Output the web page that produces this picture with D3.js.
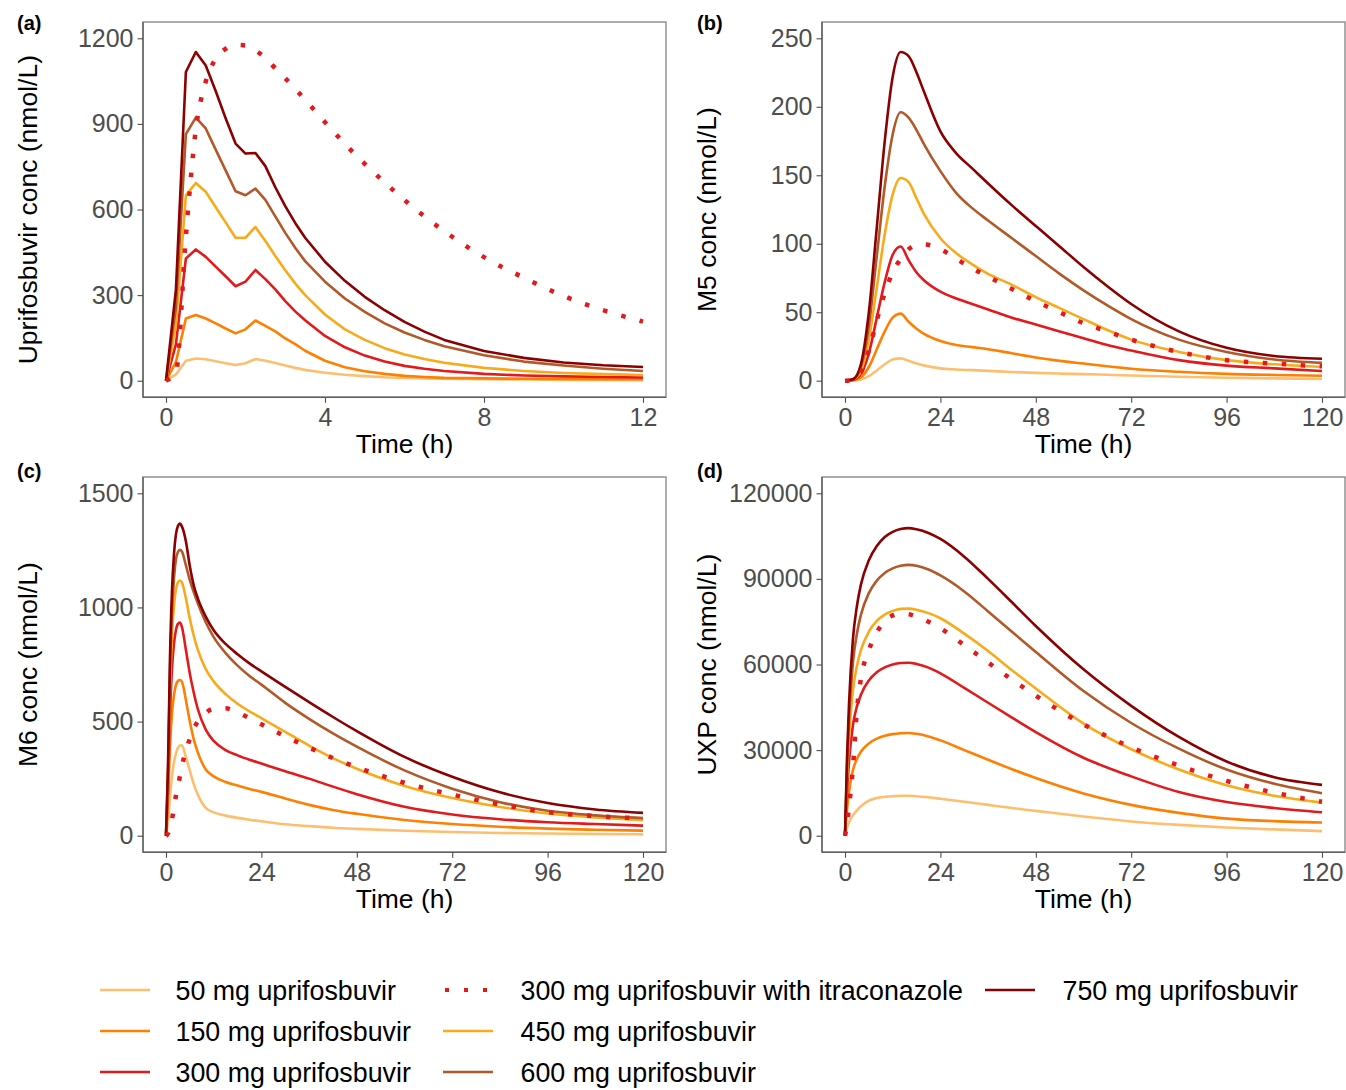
<!DOCTYPE html>
<html>
<head>
<meta charset="utf-8">
<script src="https://cdn.jsdelivr.net/npm/d3@7"></script>
<style>
  body { margin: 0; background: #fff; }
  svg { display: block; }
  text { font-family: "Liberation Sans", Arial, Helvetica, sans-serif; }
</style>
</head>
<body>
<svg id="chart" width="1346" height="1090"></svg>
<script>
// ---- Simulated concentration-time profiles ----
// Series keys: 50, 150, 300, 300 + itraconazole, 450, 600, 750 mg

// (a) uprifosbuvir, 0-12 h
const timeA = [0,0.25,0.5,0.75,1,1.25,1.5,1.75,2,2.25,2.5,2.75,3,3.25,3.5,4,4.5,5,5.5,6,6.5,7,8,9,10,11,12];
const upr50   = [0,22,70,78,75,68,61,55,61,76,70,62,53,45,38,28,21,16,12,10,8,7,5,4,3,2.5,2];
const upr150  = [0,65,218,230,218,201,183,166,180,211,192,173,148,128,105,70,47,33,24,17,13,10,8,7,6,5,5];
const upr300  = [0,128,428,460,434,400,366,331,347,388,356,320,279,243,212,157,117,88,67,52,42,34,24,18,15,13,11];
const upr300i = [0,30,505,880,1048,1128,1163,1177,1175,1158,1130,1095,1060,1023,985,906,830,760,695,633,576,524,433,361,297,247,207];
const upr450  = [0,195,650,693,662,608,555,501,501,539,490,437,387,341,300,232,180,143,114,92,76,63,45,34,27,23,20];
const upr600  = [0,260,864,922,884,810,737,664,650,673,634,576,518,466,419,347,288,241,201,169,143,121,89,67,53,42,34];
const upr750  = [0,320,1082,1152,1105,1015,920,831,796,798,752,678,612,553,501,417,350,294,247,206,172,143,104,80,64,54,48];

// (b) M5, 0-120 h
const timeB = [0,2,4,6,8,10,12,14,16,18,20,24,28,32,36,42,48,54,60,66,72,84,96,108,120];
const m5_50   = [0,0.1,0.8,3.3,7.5,12,15.5,16.3,14.5,12.5,11,9,8.2,7.7,7.2,6.4,5.7,5.2,4.8,4.3,3.8,2.9,2.2,1.7,1.2];
const m5_150  = [0,0.3,2.5,10,23,36,46,49,43,38,34,29,26,24.5,23,20,17,14.5,12.5,10.5,8.7,6.5,5,4.2,3.6];
const m5_300  = [0,0.5,5,20,46,72,92,98,88,79,73,65,60,56,52,46,41,36,31,26,22,15,11,9,7];
const m5_300i = [0,0.5,6,22,44,64,79,89,96,99,99.5,96,89,82,76,67,58,50,42,36,30,21,15,12.5,10.5];
const m5_450  = [0,1,7,30,68,107,136,148,145,133,121,104,93,85,78,70,61,53,45,37,30,21,15,12,10];
const m5_600  = [0,1,10,40,91,142,180,196,192,183,172,153,137,126,117,104,91,78,66,55,45,30,21,15.5,13];
const m5_750  = [0,1,12,50,112,175,222,240,237,225,210,182,166,155,144,128,113,98,83,69,56,36,24,18,16];

// (c) M6, 0-120 h
const timeC = [0,0.5,1,1.5,2,2.5,3,3.5,4,5,6,7,8,10,12,15,18,21,24,30,36,42,48,60,72,84,96,108,120];
const m6_50   = [0,60,170,260,320,360,385,395,396,345,285,225,180,122,102,88,78,70,63,50,42,35,30,22,16,12,9.5,7.5,6];
const m6_150  = [0,150,390,535,615,660,678,682,675,595,500,421,365,290,260,235,220,205,192,163,135,113,96,69,51,39,31,26,22];
const m6_300  = [0,205,535,730,840,900,928,934,915,815,710,625,555,465,415,375,352,333,316,282,250,215,182,127,93,72,59,51,44];
const m6_300i = [0,10,40,72,120,175,220,260,305,370,425,470,500,538,556,558,540,515,488,435,386,340,300,232,180,137,103,86,76];
const m6_450  = [0,245,640,875,1005,1080,1110,1118,1110,1040,950,875,815,730,676,620,578,545,515,455,395,340,293,218,165,126,97,80,68];
const m6_600  = [0,275,715,980,1125,1210,1243,1252,1245,1185,1120,1066,1018,935,870,800,745,700,662,582,512,448,390,286,206,147,109,89,77];
const m6_750  = [0,300,780,1070,1230,1320,1357,1367,1355,1290,1180,1095,1040,960,900,840,795,755,720,652,585,520,458,345,258,190,143,115,100];

// (d) UXP, 0-120 h
const timeD = [0,0.5,1,2,3,4,6,8,10,12,14,16,18,21,24,30,36,42,48,60,72,84,96,108,120];
const uxp50   = [0,2700,4600,7200,8900,10300,12300,13200,13600,13850,14000,14000,13850,13450,12950,11900,10800,9700,8700,6700,5000,3800,2900,2200,1600];
const uxp150  = [0,9000,15300,23000,26900,29400,32300,34000,35000,35600,35900,36000,35700,34800,33400,30000,26600,23300,20200,14800,10800,8000,6000,5100,4600];
const uxp300  = [0,15200,25800,38800,45300,49400,54400,57300,59000,60000,60500,60600,60200,58900,56900,51800,46600,41400,36300,27300,20800,15300,11800,9700,8200];
const uxp300i = [0,4000,10000,24000,44000,55000,65000,71200,75300,77200,77800,77600,76800,75000,72700,66800,60700,54700,49100,39000,31000,24600,19200,15100,11900];
const uxp450  = [0,20000,34000,51000,59500,65000,71500,75300,77500,78800,79500,79600,79200,78000,76200,70800,64700,58000,51600,39300,30300,23200,17700,14000,11600];
const uxp600  = [0,23800,40500,60700,70800,77400,85000,89400,92100,93700,94600,94900,94600,93300,91200,85600,78600,71500,64400,50700,39500,30500,23200,18200,14900];
const uxp750  = [0,27000,46000,69000,80500,88000,96500,101500,104700,106500,107500,107800,107400,106100,104000,97800,90000,81800,73500,58300,45500,34600,26000,20500,17800];

// Tick labels
const ticksA_x = [0,4,8,12],          ticksA_y = [0,300,600,900,1200];
const ticksB_x = [0,24,48,72,96,120], ticksB_y = [0,50,100,150,200,250];
const ticksC_x = [0,24,48,72,96,120], ticksC_y = [0,500,1000,1500];
const ticksD_x = [0,24,48,72,96,120], ticksD_y = [0,30000,60000,90000,120000];

const seriesNames = ["50 mg uprifosbuvir", "150 mg uprifosbuvir", "300 mg uprifosbuvir",
  "300 mg uprifosbuvir with itraconazole", "450 mg uprifosbuvir", "600 mg uprifosbuvir", "750 mg uprifosbuvir"];

// ---- Styling ----
const seriesStyle = {
  "50 mg uprifosbuvir":  { color: "#FDBF6F", dashed: false },
  "150 mg uprifosbuvir": { color: "#FF7F00", dashed: false },
  "300 mg uprifosbuvir": { color: "#E31A1C", dashed: false },
  "300 mg uprifosbuvir with itraconazole": { color: "#E31A1C", dashed: true },
  "450 mg uprifosbuvir": { color: "#F9AA1B", dashed: false },
  "600 mg uprifosbuvir": { color: "#B15928", dashed: false },
  "750 mg uprifosbuvir": { color: "#8B0000", dashed: false }
};
const SOLID_W = 2.6, DOT_W = 4.5, DOT_DASH = "4.5 14.5";

const panels = [
  { tag: "(a)", left: 143, top: 22, tagX: 17, tagY: 30, xMax: 12, times: timeA,
    xt: ticksA_x, yt: ticksA_y, yTitle: "Uprifosbuvir conc (nmol/L)", curve: d3.curveLinear,
    values: [upr50, upr150, upr300, upr300i, upr450, upr600, upr750] },
  { tag: "(b)", left: 822, top: 22, tagX: 697, tagY: 30, xMax: 120, times: timeB,
    xt: ticksB_x, yt: ticksB_y, yTitle: "M5 conc (nmol/L)", curve: d3.curveMonotoneX,
    values: [m5_50, m5_150, m5_300, m5_300i, m5_450, m5_600, m5_750] },
  { tag: "(c)", left: 143, top: 477, tagX: 17, tagY: 477.5, xMax: 120, times: timeC,
    xt: ticksC_x, yt: ticksC_y, yTitle: "M6 conc (nmol/L)", curve: d3.curveMonotoneX,
    values: [m6_50, m6_150, m6_300, m6_300i, m6_450, m6_600, m6_750] },
  { tag: "(d)", left: 822, top: 477, tagX: 697, tagY: 477.5, xMax: 120, times: timeD,
    xt: ticksD_x, yt: ticksD_y, yTitle: "UXP conc (nmol/L)", curve: d3.curveMonotoneX,
    values: [uxp50, uxp150, uxp300, uxp300i, uxp450, uxp600, uxp750] }
];

const BOX_W = 523, BOX_H = 375.3;
const svg = d3.select("#chart");
const defs = svg.append("defs");

panels.forEach((p, pi) => {
  const x = d3.scaleLinear().domain([0, p.xMax]).range([p.left + 23, p.left + 500]);
  const y = d3.scaleLinear().domain([0, d3.max(p.yt)]).range([p.top + 358.7, p.top + 16.3]);
  const g = svg.append("g");

  const clipId = "clip-" + pi;
  defs.append("clipPath").attr("id", clipId)
    .append("rect").attr("x", p.left).attr("y", p.top).attr("width", BOX_W).attr("height", BOX_H);

  // Panel border
  g.append("rect").attr("x", p.left).attr("y", p.top).attr("width", BOX_W).attr("height", BOX_H)
    .attr("fill", "none").attr("stroke", "#8a8a8a").attr("stroke-width", 1.4);

  // Lines: solid doses first, itraconazole dotted on top
  const lineGen = d3.line().x(d => x(d[0])).y(d => y(d[1]));
  const order = [0, 1, 2, 4, 5, 6, 3];
  const lg = g.append("g").attr("clip-path", `url(#${clipId})`);
  order.forEach(si => {
    const name = seriesNames[si];
    const st = seriesStyle[name];
    const pts = p.times.map((t, i) => [t, p.values[si][i]]);
    const curve = (st.dashed && p.curve === d3.curveLinear) ? d3.curveMonotoneX : p.curve;
    lg.append("path")
      .attr("d", lineGen.curve(curve)(pts))
      .attr("fill", "none")
      .attr("stroke", st.color)
      .attr("stroke-width", st.dashed ? DOT_W : SOLID_W)
      .attr("stroke-dasharray", st.dashed ? DOT_DASH : null)
      .attr("stroke-linejoin", "round");
  });

  // Axes
  const axL = g.append("g").attr("transform", `translate(${p.left},0)`)
    .call(d3.axisLeft(y).tickValues(p.yt).tickFormat(d3.format("d")).tickSize(5.5).tickPadding(4));
  const axB = g.append("g").attr("transform", `translate(0,${p.top + BOX_H})`)
    .call(d3.axisBottom(x).tickValues(p.xt).tickFormat(d3.format("d")).tickSize(5.5).tickPadding(5.8));
  [axL, axB].forEach(ax => {
    ax.select(".domain").attr("stroke", "#5f5f5f").attr("stroke-width", 1.4);
    ax.selectAll(".tick line").attr("stroke", "#4d4d4d").attr("stroke-width", 1.1);
    ax.selectAll(".tick text").attr("fill", "#4d4d4d").attr("font-size", "25px")
      .attr("font-family", '"Liberation Sans", Arial, sans-serif');
  });
  axL.select(".domain").attr("d", `M0,${p.top}V${p.top + BOX_H}`);
  axB.select(".domain").attr("d", `M${p.left},0H${p.left + BOX_W}`);

  // Axis titles
  g.append("text")
    .attr("x", p.left + 23 + 477 / 2).attr("y", p.top + 431)
    .attr("text-anchor", "middle").attr("font-size", "26.5px").attr("fill", "#000")
    .text("Time (h)");
  g.append("text")
    .attr("transform", `translate(${p.left - 106},${p.top + BOX_H / 2}) rotate(-90)`)
    .attr("text-anchor", "middle").attr("font-size", "26.5px").attr("fill", "#000")
    .text(p.yTitle);

  // Panel tag
  g.append("text").attr("x", p.tagX).attr("y", p.tagY)
    .attr("font-size", "20px").attr("font-weight", "bold").attr("fill", "#000")
    .text(p.tag);
});

// ---- Legend (column-major, 3 rows) ----
const legendCols = [
  { lineX: 100, textX: 175.5 },
  { lineX: 443, textX: 520.5 },
  { lineX: 985, textX: 1062.5 }
];
const legendRows = [990, 1031, 1072];
const legend = svg.append("g");
seriesNames.forEach((name, i) => {
  const col = legendCols[Math.floor(i / 3)], row = legendRows[i % 3];
  const st = seriesStyle[name];
  legend.append("line")
    .attr("x1", col.lineX).attr("x2", col.lineX + 50)
    .attr("y1", row).attr("y2", row)
    .attr("stroke", st.color)
    .attr("stroke-width", st.dashed ? 4 : SOLID_W)
    .attr("stroke-dasharray", st.dashed ? "4 15" : null)
    .attr("stroke-dashoffset", st.dashed ? -2 : null);
  legend.append("text")
    .attr("x", col.textX).attr("y", row + 10)
    .attr("font-size", "26.8px").attr("fill", "#000")
    .text(name);
});
</script>
</body>
</html>
